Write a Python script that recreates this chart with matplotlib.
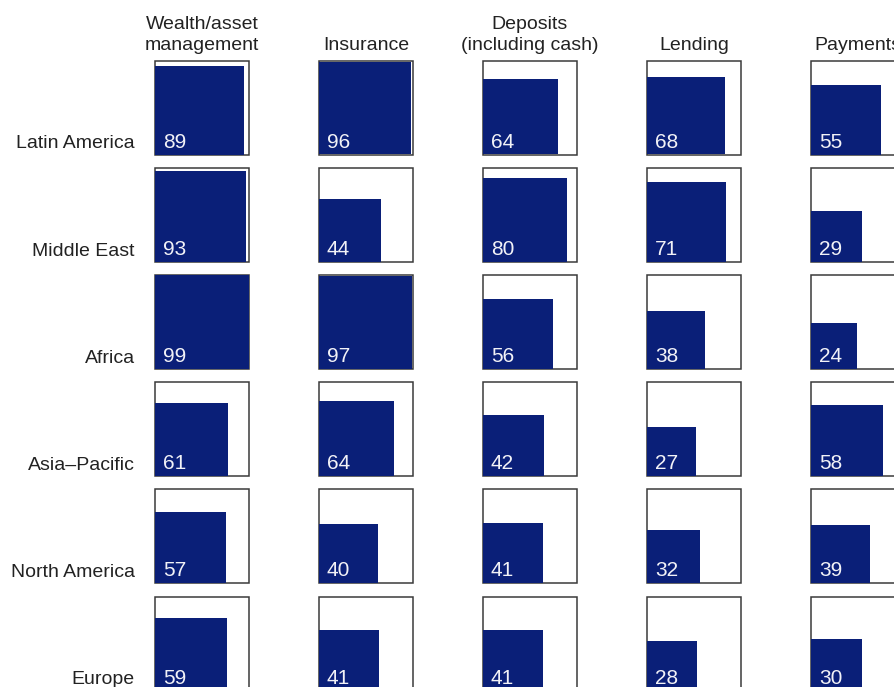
import matplotlib.pyplot as plt
from matplotlib.patches import Rectangle
import numpy as np

plt.rcParams['font.family'] = ['Liberation Sans', 'DejaVu Sans']

regions = ['Latin America', 'Middle East', 'Africa', 'Asia\u2013Pacific',
           'North America', 'Europe']
products = ['Wealth/asset\nmanagement', 'Insurance', 'Deposits\n(including cash)',
            'Lending', 'Payments']

wealth = [89, 93, 99, 61, 57, 59]
insurance = [96, 44, 97, 64, 40, 41]
deposits = [64, 80, 56, 42, 41, 41]
lending = [68, 71, 38, 27, 32, 28]
payments = [55, 29, 24, 58, 39, 30]
columns = [wealth, insurance, deposits, lending, payments]

FILL = '#0a1f78'
EDGE = '#3a3a3a'
TEXT = '#222222'

# grid layout in pixel units
x_start, x_step = 155, 164
y_start, y_step = 60.5, 107.2
box = 94

fig = plt.figure(figsize=(8.95, 6.87), dpi=100)
ax = fig.add_axes([0, 0, 1, 1])
ax.set_xlim(0, 895)
ax.set_ylim(687, 0)
ax.axis('off')

for j, vals in enumerate(columns):
    x0 = x_start + j * x_step
    ax.text(x0 + box / 2, y_start - 11, products[j], ha='center', va='baseline',
            fontsize=14, color=TEXT, linespacing=1.3)
    for i, v in enumerate(vals):
        y0 = y_start + i * y_step
        ax.add_patch(Rectangle((x0, y0), box, box, facecolor='white',
                               edgecolor=EDGE, linewidth=1.1))
        side = box * np.sqrt(v / 100)
        ax.add_patch(Rectangle((x0, y0 + box - side), side, side,
                               facecolor=FILL, edgecolor='none'))
        ax.text(x0 + 8, y0 + box - 7, str(v), ha='left', va='baseline',
                fontsize=15, color='#f2f2f7')

for i, r in enumerate(regions):
    y0 = y_start + i * y_step
    ax.text(135, y0 + box - 6, r, ha='right', va='baseline',
            fontsize=14, color=TEXT)

fig.savefig('out.png', dpi=100)
